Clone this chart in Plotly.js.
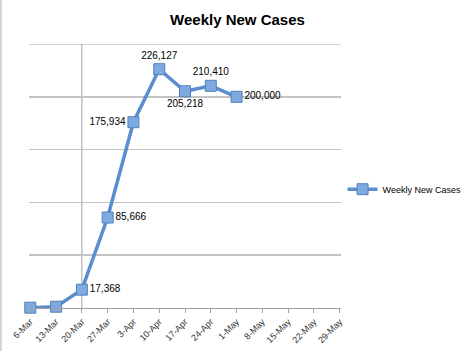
<!DOCTYPE html>
<html><head><meta charset="utf-8">
<script src="https://cdn.plot.ly/plotly-3.0.1.min.js"></script>
<style>html,body{margin:0;padding:0;background:#fff}#chart{width:475px;height:351px}</style>
</head><body><div id="chart"></div>
<script>
const allWeeks = ['6-Mar','13-Mar','20-Mar','27-Mar','3-Apr','10-Apr','17-Apr','24-Apr','1-May','8-May','15-May','22-May','29-May'];
const weeks = ['6-Mar','13-Mar','20-Mar','27-Mar','3-Apr','10-Apr','17-Apr','24-Apr','1-May'];
const newCases = [300, 1200, 17368, 85666, 175934, 226127, 205218, 210410, 200000];
const labels = ['', '', '17,368', '85,666', '175,934', '226,127', '205,218', '210,410', '200,000'];
const labelPos = ['middle right','middle right','middle right','middle right','middle left','top center','bottom center','top center','middle right'];
const yMax = 250000;

const trace = {
  type: 'scatter', mode: 'lines+markers+text', name: 'Weekly New Cases',
  x: weeks, y: newCases, text: labels, textposition: labelPos,
  textfont: {family: 'Liberation Sans, Arial, sans-serif', size: 10, color: '#000'},
  line: {color: '#5a8ecf', width: 3.5},
  marker: {symbol: 'square', size: 11, color: '#7eaae0', line: {color: '#4f81bd', width: 1}},
  cliponaxis: false
};
const layout = {
  width: 475, height: 351,
  margin: {l: 29, r: 134, t: 44, b: 43, autoexpand: false},
  paper_bgcolor: '#fff', plot_bgcolor: '#fff',
  title: {text: '<b>Weekly New Cases</b>', x: 0.5, xanchor: 'center', y: 0.945, yanchor: 'middle',
    font: {family: 'Liberation Sans, Arial, sans-serif', size: 15, color: '#000'}},
  xaxis: {type: 'category', categoryorder: 'array', categoryarray: allWeeks, automargin: false,
    range: [-0.05, 12.05], showgrid: false, zeroline: false,
    showline: true, linecolor: '#a0a0a0', linewidth: 1,
    ticks: 'outside', ticklen: 4, tickcolor: '#a0a0a0', tickangle: -45,
    tickfont: {family: 'Liberation Sans, Arial, sans-serif', size: 9, color: '#333'}},
  yaxis: {range: [0, yMax], dtick: 50000, showticklabels: false, ticks: '', automargin: false,
    showgrid: true, gridcolor: '#c4c4c4', gridwidth: 1.5, zeroline: false, showline: false},
  showlegend: true,
  legend: {x: 1.005, xanchor: 'left', y: 0.45, yanchor: 'middle', bgcolor: 'rgba(0,0,0,0)',
    font: {family: 'Liberation Sans, Arial, sans-serif', size: 9, color: '#000'}},
  shapes: [
    {type: 'line', xref: 'paper', yref: 'y', x0: 0, x1: 1, y0: yMax, y1: yMax,
     line: {color: '#c4c4c4', width: 1.5}, layer: 'below'},
    {type: 'line', xref: 'x', yref: 'y', x0: '20-Mar', x1: '20-Mar', y0: 0, y1: yMax,
     line: {color: '#a0a0a0', width: 1}, layer: 'below'},
    {type: 'line', xref: 'paper', yref: 'paper', x0: -0.09, x1: -0.09, y0: -0.2, y1: 1.2,
     line: {color: '#c8c8c8', width: 1.5}}
  ]
};
Plotly.newPlot('chart', [trace], layout, {displayModeBar: false, staticPlot: true});
</script></body></html>
